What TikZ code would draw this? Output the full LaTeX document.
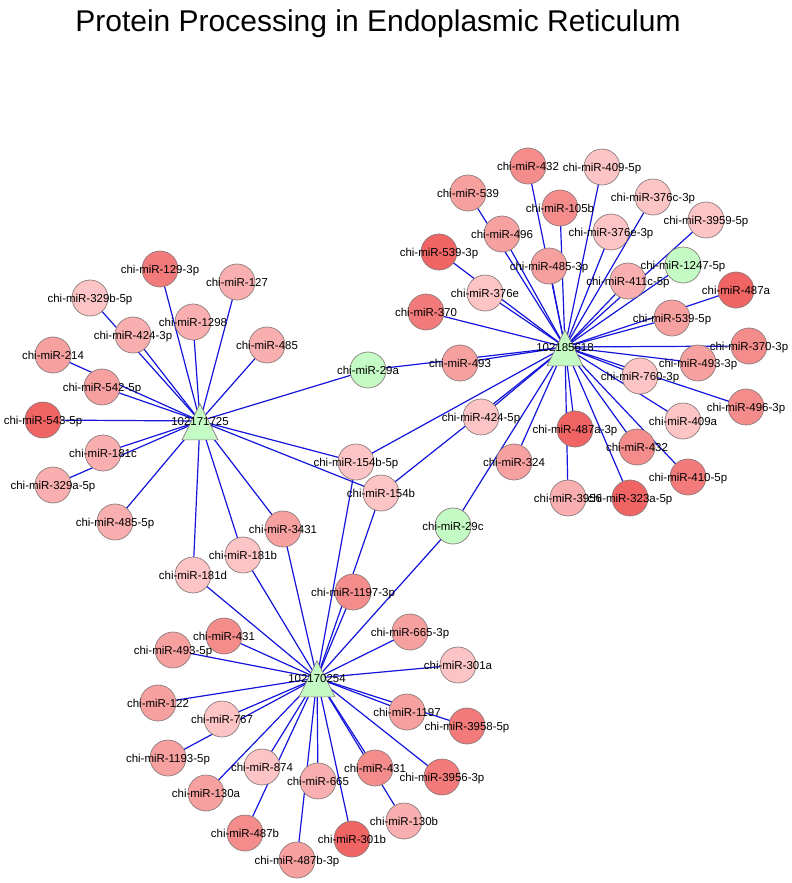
\documentclass[tikz,border=0pt]{standalone}
\usepackage{fontspec}
\setmainfont{Liberation Sans}
\usetikzlibrary{backgrounds,shapes.geometric}
\definecolor{rDk}{RGB}{240,100,100}
\definecolor{rMdd}{RGB}{243,122,122}
\definecolor{rMd}{RGB}{245,140,140}
\definecolor{rLtt}{RGB}{247,160,160}
\definecolor{rLt}{RGB}{249,175,175}
\definecolor{rPale}{RGB}{252,196,196}
\definecolor{gr}{RGB}{196,250,196}
\definecolor{nodeborder}{RGB}{135,120,120}
\definecolor{edgeblue}{RGB}{20,20,220}
\tikzset{
  mir/.style={circle, draw=nodeborder, line width=0.5pt, minimum size=27pt, inner sep=0pt,
    text height=6.2pt, text depth=0pt, font=\fontsize{8.6}{10}\selectfont, text=black},
  hubtri/.style={isosceles triangle, shape border rotate=90, isosceles triangle stretches,
    minimum width=27pt, minimum height=27pt, inner sep=0pt, draw=nodeborder, line width=0.5pt, fill=gr},
  hublab/.style={inner sep=0pt, text height=6.2pt, text depth=0pt, font=\fontsize{8.6}{10}\selectfont},
  edge/.style={draw=edgeblue, line width=0.9pt},
  titlestyle/.style={font=\fontsize{22.5}{27}\selectfont, anchor=base, inner sep=0pt}
}
\begin{document}
\begin{tikzpicture}[x=0.75pt,y=-0.75pt]
\useasboundingbox (0,0) rectangle (792,883);
\node[titlestyle] (title) at (378,31) {Protein Processing in Endoplasmic Reticulum};
% miRNA nodes
\foreach \n/\x/\y/\c/\t in {
  m432a/528/166/rMd/chi-miR-432,
  m4095p/602/167/rPale/chi-miR-409-5p,
  m539/468/193/rLtt/chi-miR-539,
  m105b/560/208/rMd/chi-miR-105b,
  m376c/653/197/rPale/chi-miR-376c-3p,
  m3959/706/220/rPale/chi-miR-3959-5p,
  m496/502/234/rLtt/chi-miR-496,
  m376eiii/611/232/rPale/chi-miR-376e-3p,
  m5393/439/252/rDk/chi-miR-539-3p,
  m4853/549/266/rLtt/chi-miR-485-3p,
  m1247/683/265/gr/chi-miR-1247-5p,
  m411c/628/281/rLt/chi-miR-411c-5p,
  m376e/485/293/rPale/chi-miR-376e,
  m487a/736/290/rDk/chi-miR-487a,
  m370/426/312/rMdd/chi-miR-370,
  m5395/672/318/rLtt/chi-miR-539-5p,
  m3703/749/346/rMd/chi-miR-370-3p,
  m493/460/363/rLtt/chi-miR-493,
  m4933/698/363/rLtt/chi-miR-493-3p,
  m760/640/376/rPale/chi-miR-760-3p,
  m4963/746/407/rMd/chi-miR-496-3p,
  m4245/481/417/rPale/chi-miR-424-5p,
  m409a/683/421/rPale/chi-miR-409a,
  m487aiii/575/429/rDk/chi-miR-487a-3p,
  m432b/637/447/rMd/chi-miR-432,
  m324/514/462/rLtt/chi-miR-324,
  m4105/688/477/rMdd/chi-miR-410-5p,
  m3956/568/498/rLt/chi-miR-3956,
  m323a/630/498/rDk/chi-miR-323a-5p,
  m29c/453/526/gr/chi-miR-29c,
  m29a/368/370/gr/chi-miR-29a,
  m154bv/356/462/rPale/chi-miR-154b-5p,
  m154b/381/493/rPale/chi-miR-154b,
  m1293/160/269/rMdd/chi-miR-129-3p,
  m127/237/282/rLt/chi-miR-127,
  m329b/90/298/rPale/chi-miR-329b-5p,
  m1298/193/322/rLt/chi-miR-1298,
  m4243/133/335/rLt/chi-miR-424-3p,
  m485/267/345/rLt/chi-miR-485,
  m214/53/355/rLtt/chi-miR-214,
  m5425/102/387/rLtt/chi-miR-542-5p,
  m5435/43/420/rDk/chi-miR-543-5p,
  m181c/103/453/rLt/chi-miR-181c,
  m329a/53/485/rLt/chi-miR-329a-5p,
  m4855/115/522/rLt/chi-miR-485-5p,
  m3431/283/529/rLtt/chi-miR-3431,
  m181b/243/555/rPale/chi-miR-181b,
  m181d/193/575/rPale/chi-miR-181d,
  m11973/353/592/rMd/chi-miR-1197-3p,
  m6653/410/632/rLtt/chi-miR-665-3p,
  m431a/224/636/rMd/chi-miR-431,
  m4935/173/650/rLtt/chi-miR-493-5p,
  m301a/458/665/rPale/chi-miR-301a,
  m122/158/703/rLtt/chi-miR-122,
  m1197/407/712/rLtt/chi-miR-1197,
  m767/222/719/rPale/chi-miR-767,
  m3958/467/726/rMdd/chi-miR-3958-5p,
  m1193/168/758/rLtt/chi-miR-1193-5p,
  m874/262/767/rPale/chi-miR-874,
  m431b/375/768/rMd/chi-miR-431,
  m39563/442/777/rMdd/chi-miR-3956-3p,
  m665/318/781/rLt/chi-miR-665,
  m130a/206/793/rLtt/chi-miR-130a,
  m130b/404/821/rLt/chi-miR-130b,
  m487b/245/833/rMd/chi-miR-487b,
  m301b/352/839/rDk/chi-miR-301b,
  m487biii/297/860/rLtt/chi-miR-487b-3p}
  {\node[mir, fill=\c] (\n) at (\x,\y) {\makebox[0pt]{\t}};}
% hubs
\node[hubtri, anchor=apex] (h1t) at (200,403) {};
\node[hublab] (h1) at (200,421) {\makebox[0pt]{102171725}};
\node[hubtri, anchor=apex] (h2t) at (565,329) {};
\node[hublab] (h2) at (565,347) {\makebox[0pt]{102185618}};
\node[hubtri, anchor=apex] (h3t) at (317,660) {};
\node[hublab] (h3) at (317,678) {\makebox[0pt]{102170254}};
% edges
\begin{pgfonlayer}{background}
\fill[white] (0,0) rectangle (792,883);
\foreach \m in {m432a,m4095p,m539,m105b,m376c,m3959,m496,m376eiii,m5393,m4853,m1247,m411c,
  m376e,m487a,m370,m5395,m3703,m493,m4933,m760,m4963,m4245,m409a,m487aiii,m432b,m324,
  m4105,m3956,m323a,m29a,m29c,m154bv,m154b}
  {\draw[edge] (h2.center) -- (\m.center);}
\foreach \m in {m1293,m127,m329b,m1298,m4243,m485,m214,m5425,m5435,m181c,m329a,m4855,
  m181d,m181b,m3431,m29a,m154bv,m154b}
  {\draw[edge] (h1.center) -- (\m.center);}
\foreach \m in {m181d,m181b,m3431,m154bv,m154b,m11973,m29c,m6653,m301a,m1197,m3958,
  m39563,m431b,m130b,m301b,m487biii,m665,m487b,m874,m130a,m767,m1193,m122,m4935,m431a}
  {\draw[edge] (h3.center) -- (\m.center);}
\end{pgfonlayer}
\end{tikzpicture}
\end{document}
